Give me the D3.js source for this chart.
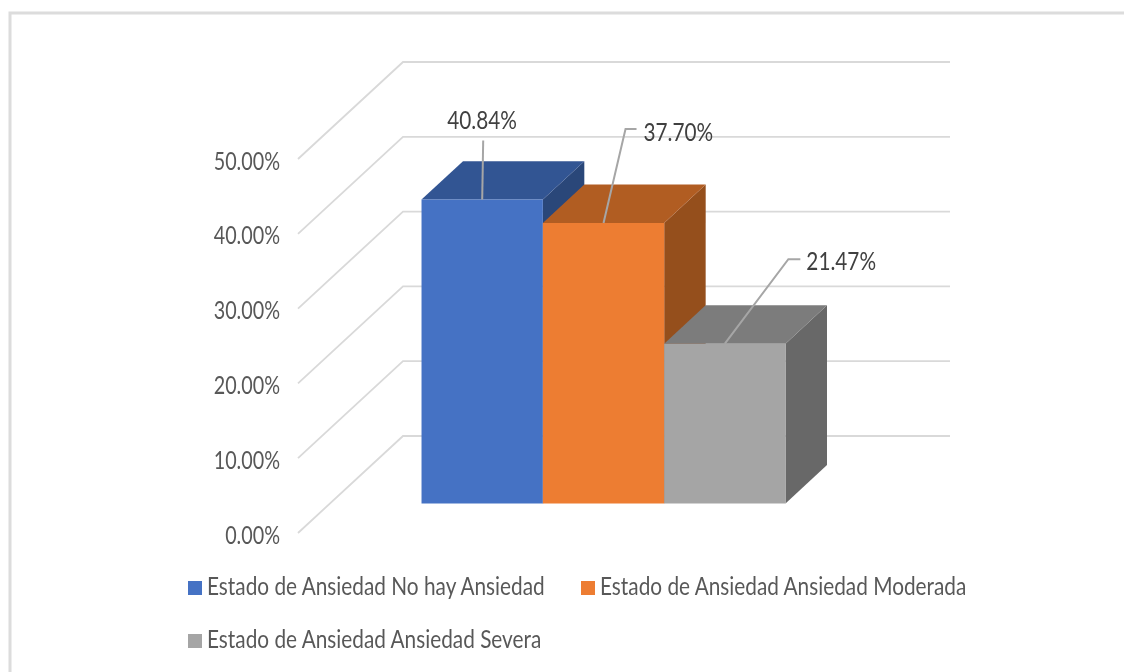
<!DOCTYPE html>
<html>
<head>
<meta charset="utf-8">
<script src="https://cdn.jsdelivr.net/npm/d3@7"></script>
<style>
  html, body { margin: 0; padding: 0; background: #fff; }
  svg { display: block; }
  text { font-family: Lato, "Open Sans", sans-serif; }
</style>
</head>
<body>
<div id="chart"></div>
<script>
// data
var series = ["Estado de Ansiedad No hay Ansiedad", "Estado de Ansiedad Ansiedad Moderada", "Estado de Ansiedad Ansiedad Severa"];
var values = [40.84, 37.70, 21.47];
var ticks = [0, 10, 20, 30, 40, 50];
var frontColors = ["#4472c4", "#ed7d31", "#a5a5a5"];
var topColors = ["#335593", "#b15d24", "#7c7c7c"];
var sideColors = ["#2a4679", "#954f1f", "#686868"];

var width = 1124, height = 672;

var svg = d3.select("#chart").append("svg")
    .attr("width", width)
    .attr("height", height);

// the source is a slightly soft screenshot
var defs = svg.append("defs");
defs.append("filter").attr("id", "soft")
    .append("feGaussianBlur").attr("stdDeviation", 0.45);

var root = svg.append("g").attr("filter", "url(#soft)");

// white rect so the filter region covers the full page
root.append("rect").attr("width", width).attr("height", height).attr("fill", "#fff");

// picture frame
root.append("path")
    .attr("d", "M10,672V13H1124")
    .attr("fill", "none")
    .attr("stroke", "#dcdcdc")
    .attr("stroke-width", 3);

// front plane scales
var y = d3.scaleLinear().domain([0, 50]).range([533, 159]);
var yBar = d3.scaleLinear().domain([0, 50]).range([533, 161]);
var x = d3.scaleBand().domain(series).range([389.5, 753.5]);

// depth goes from the front plane (0) to the back wall (1)
var depthX = d3.scaleLinear().domain([0, 1]).range([0, 105]);
var depthY = d3.scaleLinear().domain([0, 1]).range([0, -97]);
var barDepth = [0.305, 0.70];

function pt(px, v, d, scale) {
  return [px + depthX(d), (scale || y)(v) + depthY(d)];
}

// squeeze text to the narrow look of the original font
function squeeze(sel, k) {
  sel.each(function() {
    this.setAttribute("textLength", this.getComputedTextLength() * k);
    this.setAttribute("lengthAdjust", "spacingAndGlyphs");
  });
}

// gridlines: diagonal on the side wall, then horizontal on the back wall
var gridRight = 845;
root.append("g").selectAll("path")
  .data(ticks)
  .enter().append("path")
    .attr("d", function(t) {
      return d3.line()([pt(298, t, 0), pt(298, t, 1), pt(gridRight, t, 1)]);
    })
    .attr("fill", "none")
    .attr("stroke", "#d9d9d9")
    .attr("stroke-width", 1.8);

// tick labels
root.append("g").selectAll("text")
  .data(ticks)
  .enter().append("text")
    .attr("x", 280)
    .attr("y", function(t) { return y(t) + 10.5; })
    .attr("text-anchor", "end")
    .attr("font-size", 25)
    .attr("fill", "#595959")
    .text(function(t) { return d3.format(".2f")(t) + "%"; })
    .call(squeeze, 0.79);

// bars, back faces first so neighbours overlap like in the picture
var bars = root.append("g").selectAll("g")
  .data(series)
  .enter().append("g");

function poly(points) { return d3.line()(points) + "Z"; }

bars.append("path")
    .attr("fill", function(d, i) { return sideColors[i]; })
    .attr("d", function(d, i) {
      var r = x(d) + x.bandwidth();
      return poly([pt(r, 0, barDepth[0], yBar), pt(r, 0, barDepth[1], yBar), pt(r, values[i], barDepth[1], yBar), pt(r, values[i], barDepth[0], yBar)]);
    });

bars.append("path")
    .attr("fill", function(d, i) { return topColors[i]; })
    .attr("d", function(d, i) {
      var l = x(d), r = l + x.bandwidth();
      return poly([pt(l, values[i], barDepth[0], yBar), pt(l, values[i], barDepth[1], yBar), pt(r, values[i], barDepth[1], yBar), pt(r, values[i], barDepth[0], yBar)]);
    });

bars.append("path")
    .attr("fill", function(d, i) { return frontColors[i]; })
    .attr("d", function(d, i) {
      var l = x(d), r = l + x.bandwidth();
      return poly([pt(l, 0, barDepth[0], yBar), pt(l, values[i], barDepth[0], yBar), pt(r, values[i], barDepth[0], yBar), pt(r, 0, barDepth[0], yBar)]);
    });

// data labels with leader lines, offsets measured from top of bar front
var leaderOffsets = [[1, -59, 1, -59], [22, -94, 33, -94], [63.5, -84.5, 75.5, -84.5]];
var labelOffsets = [[-35, -71], [40, -82], [81.5, -73.5]];

function barTop(d, i) {
  return pt(x(d) + x.bandwidth() / 2, values[i], barDepth[0], yBar);
}

var labels = root.append("g").selectAll("g")
  .data(series)
  .enter().append("g");

labels.append("path")
    .attr("fill", "none")
    .attr("stroke", "#a6a6a6")
    .attr("stroke-width", 2)
    .attr("d", function(d, i) {
      var p = barTop(d, i);
      var o = leaderOffsets[i];
      return d3.line()([p, [p[0] + o[0], p[1] + o[1]], [p[0] + o[2], p[1] + o[3]]]);
    });

labels.append("text")
    .attr("font-size", 25)
    .attr("fill", "#404040")
    .attr("x", function(d, i) { return barTop(d, i)[0] + labelOffsets[i][0]; })
    .attr("y", function(d, i) { return barTop(d, i)[1] + labelOffsets[i][1]; })
    .text(function(d, i) { return d3.format(".2f")(values[i]) + "%"; })
    .call(squeeze, 0.83);

// legend
var legendPos = [[188, 595], [581, 595], [188, 648]];
var legend = root.append("g").selectAll("g")
  .data(series)
  .enter().append("g")
    .attr("transform", function(d, i) { return "translate(" + legendPos[i][0] + "," + legendPos[i][1] + ")"; });

legend.append("rect")
    .attr("y", -14)
    .attr("width", 14)
    .attr("height", 14)
    .attr("fill", function(d, i) { return frontColors[i]; });

legend.append("text")
    .attr("x", 19)
    .attr("font-size", 25)
    .attr("fill", "#595959")
    .text(function(d) { return d; })
    .call(squeeze, 0.832);
</script>
</body>
</html>
